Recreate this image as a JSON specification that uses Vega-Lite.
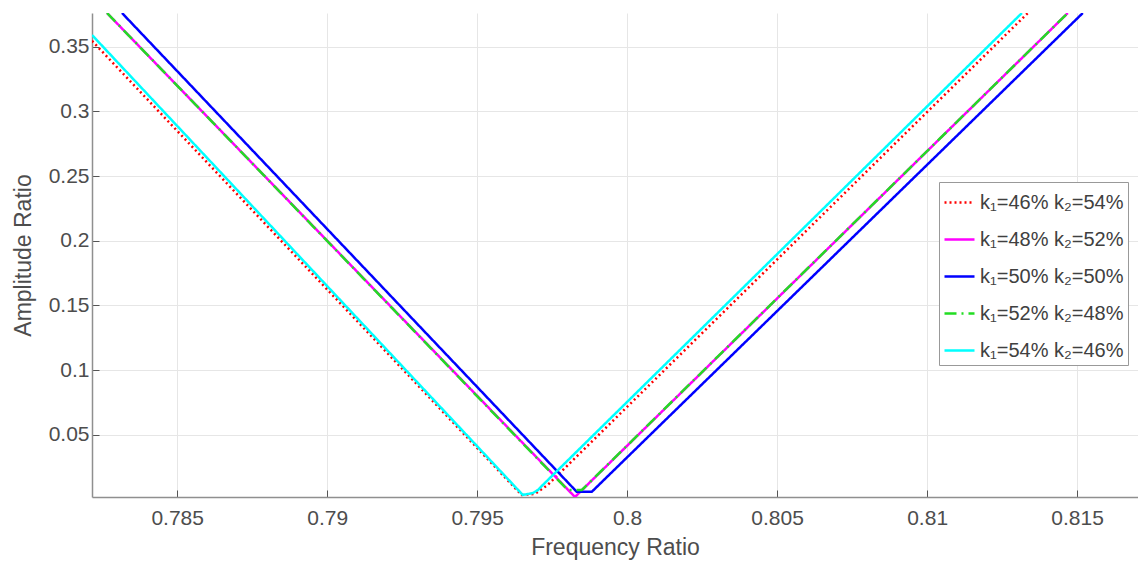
{
  "$schema": "https://vega.github.io/schema/vega-lite/v6.json",
  "width": 1046,
  "height": 484,
  "autosize": {"type": "none"},
  "padding": {"left": 92, "top": 13, "right": 0, "bottom": 65},
  "background": "white",
  "config": {
    "view": {"stroke": null},
    "font": "Liberation Sans",
    "axis": {
      "domainColor": "#8f8f8f",
      "domainWidth": 1.5,
      "tickColor": "#555555",
      "tickSize": -7,
      "gridColor": "#e6e6e6",
      "gridWidth": 1,
      "labelColor": "#4d4d4d",
      "labelFont": "Liberation Sans",
      "labelFontSize": 21,
      "titleColor": "#4d4d4d",
      "titleFont": "Liberation Sans",
      "titleFontSize": 23,
      "titleFontWeight": "normal"
    }
  },
  "data": {
    "values": [
      {"series": "k₁=46% k₂=54%", "f": 0.78216, "a": 0.3545},
      {"series": "k₁=46% k₂=54%", "f": 0.79648, "a": 0.0036},
      {"series": "k₁=46% k₂=54%", "f": 0.79692, "a": 0.0043},
      {"series": "k₁=46% k₂=54%", "f": 0.79735, "a": 0.0113},
      {"series": "k₁=46% k₂=54%", "f": 0.81336, "a": 0.376},
      {"series": "k₁=48% k₂=52%", "f": 0.78266, "a": 0.376},
      {"series": "k₁=48% k₂=52%", "f": 0.79826, "a": 0.002},
      {"series": "k₁=48% k₂=52%", "f": 0.81469, "a": 0.376},
      {"series": "k₁=50% k₂=50%", "f": 0.78316, "a": 0.376},
      {"series": "k₁=50% k₂=50%", "f": 0.79832, "a": 0.006},
      {"series": "k₁=50% k₂=50%", "f": 0.79882, "a": 0.006},
      {"series": "k₁=50% k₂=50%", "f": 0.81519, "a": 0.376},
      {"series": "k₁=52% k₂=48%", "f": 0.78266, "a": 0.376},
      {"series": "k₁=52% k₂=48%", "f": 0.79802, "a": 0.0074},
      {"series": "k₁=52% k₂=48%", "f": 0.79849, "a": 0.0074},
      {"series": "k₁=52% k₂=48%", "f": 0.81469, "a": 0.376},
      {"series": "k₁=54% k₂=46%", "f": 0.78216, "a": 0.359},
      {"series": "k₁=54% k₂=46%", "f": 0.79652, "a": 0.0036},
      {"series": "k₁=54% k₂=46%", "f": 0.79685, "a": 0.005},
      {"series": "k₁=54% k₂=46%", "f": 0.79702, "a": 0.0073},
      {"series": "k₁=54% k₂=46%", "f": 0.79719, "a": 0.0113},
      {"series": "k₁=54% k₂=46%", "f": 0.81316, "a": 0.376}
    ]
  },
  "mark": {"type": "line", "strokeWidth": 2.5, "clip": true},
  "encoding": {
    "x": {
      "field": "f",
      "type": "quantitative",
      "scale": {"domain": [0.78216, 0.81703], "nice": false, "zero": false},
      "axis": {
        "title": "Frequency Ratio",
        "values": [0.785, 0.79, 0.795, 0.8, 0.805, 0.81, 0.815],
        "format": ".3~f",
        "labelPadding": 17,
        "titlePadding": 8
      }
    },
    "y": {
      "field": "a",
      "type": "quantitative",
      "scale": {"domain": [0.002, 0.376], "nice": false, "zero": false},
      "axis": {
        "title": "Amplitude Ratio",
        "values": [0.05, 0.1, 0.15, 0.2, 0.25, 0.3, 0.35],
        "format": ".2~f",
        "labelPadding": 10,
        "titlePadding": 13
      }
    },
    "color": {
      "field": "series",
      "type": "nominal",
      "scale": {
        "domain": ["k₁=46% k₂=54%", "k₁=48% k₂=52%", "k₁=50% k₂=50%", "k₁=52% k₂=48%", "k₁=54% k₂=46%"],
        "range": ["#ff0000", "#ff00ff", "#0000ff", "#22dd22", "#00ffff"]
      },
      "legend": {
        "title": null,
        "orient": "none",
        "legendX": 847,
        "legendY": 169,
        "fillColor": "white",
        "strokeColor": "#999999",
        "padding": 4,
        "rowPadding": 10,
        "symbolType": "stroke",
        "symbolSize": 900,
        "symbolStrokeWidth": 2.5,
        "labelFont": "Liberation Sans",
        "labelFontSize": 20,
        "labelColor": "#404040",
        "labelOffset": 4,
        "labelLimit": 300
      }
    },
    "strokeDash": {
      "field": "series",
      "type": "nominal",
      "scale": {
        "domain": ["k₁=46% k₂=54%", "k₁=48% k₂=52%", "k₁=50% k₂=50%", "k₁=52% k₂=48%", "k₁=54% k₂=46%"],
        "range": [[2, 3], [1, 0], [1, 0], [12, 5, 2, 5], [1, 0]]
      },
      "legend": null
    },
    "order": {"field": "f", "type": "quantitative"}
  }
}
